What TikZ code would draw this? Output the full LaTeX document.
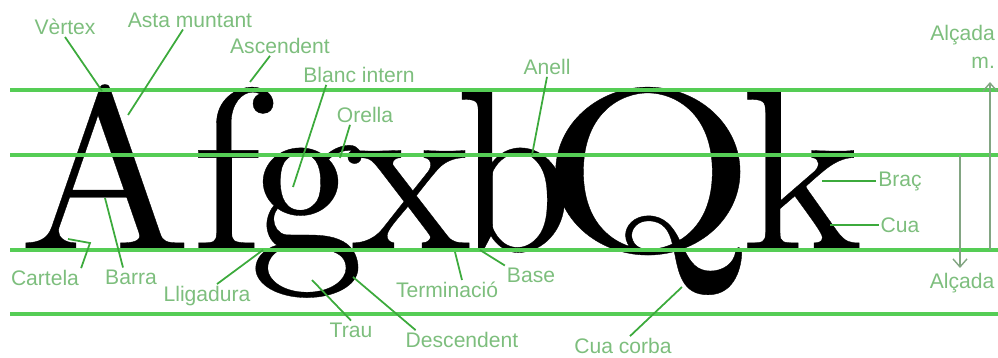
\documentclass[tikz,border=0pt]{standalone}
\usepackage{fontspec}
\newfontfamily\lblfont{Liberation Sans}
\newfontfamily\glyphfont{lmroman10-regular.otf}[FakeBold=0.15]
\usepackage{tikz}
\usetikzlibrary{arrows.meta}
\definecolor{guide}{RGB}{85,205,85}
\definecolor{leadgreen}{RGB}{60,170,60}
\definecolor{lblgreen}{RGB}{125,190,125}
\definecolor{measgray}{RGB}{130,165,130}

\begin{document}
\begin{tikzpicture}[x=0.02cm, y=-0.02cm,
  glyph/.style={anchor=base, inner sep=0pt, font=\glyphfont\fontsize{131.5}{140}\selectfont},
  lbl/.style={text=lblgreen, font=\lblfont\fontsize{12}{16}\selectfont, inner sep=1pt},
  guideline/.style={guide, line width=1.8pt},
  lead/.style={leadgreen, line width=1pt},
  measure/.style={measgray, line width=0.8pt, -{Straight Barb[length=0.16cm, width=0.28cm]}}]
  \useasboundingbox (0,0) rectangle (998,358);

  \node[glyph] (A) at (105,250) {A};
  \node[glyph] (f) at (226,250) {f};
  \node[glyph] (g) at (307,250) {g};
  \node[glyph] (x) at (411,250) {x};
  \node[glyph] (b) at (514,250) {\scalebox{0.9}[1]{b}};
  \node[glyph] (Q) at (648,250) {\scalebox{1.2}[1]{Q}};
  \node[glyph] (k) at (802,250) {k};

  \foreach \y in {90,155,250,314}
    \draw[guideline] (10,\y) -- (998,\y);

  \node[lbl] (vertex) at (65,27) {Vèrtex};
  \node[lbl] (asta) at (190,20) {Asta muntant};
  \node[lbl] (ascend) at (280,46) {Ascendent};
  \node[lbl] (blanc) at (359,75) {Blanc intern};
  \node[lbl] (orella) at (365,115) {Orella};
  \node[lbl] (anell) at (547,67) {Anell};
  \node[lbl, align=right, anchor=east] (alcm) at (997,47) {Alçada\\m.};
  \node[lbl] (brac) at (900,181) {Braç};
  \node[lbl] (cua) at (900,225) {Cua};
  \node[lbl] (alcx) at (962,283) {Alçada};
  \node[lbl] (cartela) at (45,278) {Cartela};
  \node[lbl] (barra) at (131,277) {Barra};
  \node[lbl] (lligadura) at (207,296) {Lligadura};
  \node[lbl] (trau) at (351,330) {Trau};
  \node[lbl] (descend) at (462,340) {Descendent};
  \node[lbl] (termin) at (447,290) {Terminació};
  \node[lbl] (base) at (531,275) {Base};
  \node[lbl] (cuacorba) at (623,346) {Cua corba};

  \coordinate (apex) at (102,91);
  \coordinate (stem) at (128,115);
  \coordinate (fhook) at (250,82);
  \coordinate (counter) at (293,187);
  \coordinate (ear) at (340,158);
  \coordinate (bowl) at (532,155);
  \coordinate (arm) at (822,181);
  \coordinate (leg) at (830,225);
  \coordinate (bracket) at (68,239);
  \coordinate (knee) at (90,243);
  \coordinate (crossbar) at (105,198);
  \coordinate (link) at (263,250);
  \coordinate (loop) at (312,280);
  \coordinate (desc) at (353,277);
  \coordinate (term) at (455,252);
  \coordinate (foot) at (480,250);
  \coordinate (tail) at (682,287);
  \coordinate (captop) at (990,82);
  \coordinate (capbot) at (990,250);
  \coordinate (xtop) at (960,155);
  \coordinate (xbot) at (960,268);

  \draw[lead] (vertex.south) -- (apex);
  \draw[lead] ([xshift=-0.14cm]asta.south) -- (stem);
  \draw[lead] ([xshift=-0.2cm]ascend.south) -- (fhook);
  \draw[lead] ([xshift=0.5cm]blanc.south west) -- (counter);
  \draw[lead] ([xshift=-0.3cm]orella.south) -- (ear);
  \draw[lead] (anell.south) -- (bowl);
  \draw[lead] (brac.west) -- (arm);
  \draw[lead] (cua.west) -- (leg);
  \draw[lead] (cartela.north east) -- (knee) -- (bracket);
  \draw[lead] ([xshift=-0.16cm]barra.north) -- (crossbar);
  \draw[lead] ([xshift=0.2cm]lligadura.north) -- (link);
  \draw[lead] (trau.north) -- (loop);
  \draw[lead] ([xshift=0.24cm]descend.north west) -- (desc);
  \draw[lead] ([xshift=0.3cm]termin.north) -- (term);
  \draw[lead] (base.north west) -- (foot);
  \draw[lead] ([xshift=0.14cm]cuacorba.north) -- (tail);

  \draw[measure] (capbot) -- (captop);
  \draw[measure] (xtop) -- (xbot);
\end{tikzpicture}
\end{document}
